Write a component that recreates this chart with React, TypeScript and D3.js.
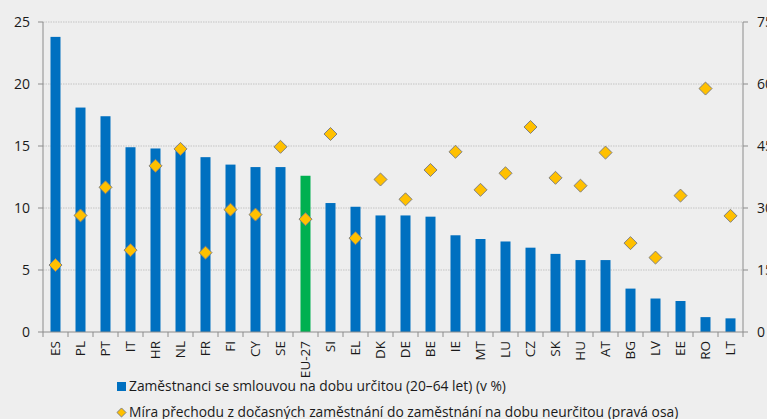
import * as d3 from "d3";

const countries = ["ES", "PL", "PT", "IT", "HR", "NL", "FR", "FI", "CY", "SE", "EU-27", "SI", "EL", "DK", "DE", "BE", "IE", "MT", "LU", "CZ", "SK", "HU", "AT", "BG", "LV", "EE", "RO", "LT"];
// share of employees on fixed-term contracts (left axis, %)
const fixedTerm = [23.8, 18.1, 17.4, 14.9, 14.8, 14.8, 14.1, 13.5, 13.3, 13.3, 12.6, 10.4, 10.1, 9.4, 9.4, 9.3, 7.8, 7.5, 7.3, 6.8, 6.3, 5.8, 5.8, 3.5, 2.7, 2.5, 1.2, 1.1];
// transition rate to permanent contracts (right axis)
const transition = [16.2, 28.2, 35.0, 19.8, 40.2, 44.3, 19.2, 29.6, 28.4, 44.8, 27.3, 47.9, 22.7, 36.9, 32.1, 39.2, 43.6, 34.4, 38.4, 49.6, 37.3, 35.4, 43.4, 21.5, 18.0, 33.0, 58.9, 28.1];
const leftTicks = [0, 5, 10, 15, 20, 25];
const rightTicks = [0, 15, 30, 45, 60, 75];
const legendLabels = [
  "Zaměstnanci se smlouvou na dobu určitou (20–64 let) (v %)",
  "Míra přechodu z dočasných zaměstnání do zaměstnání na dobu neurčitou (pravá osa)",
];

const W = 767;
const H = 419;
const margin = { left: 43, right: 743, top: 22, bottom: 332 };
const font = "'Open Sans', Lato, sans-serif";

export default function App() {
  const x = d3
    .scaleBand()
    .domain(countries)
    .range([margin.left, margin.right])
    .paddingInner(0.6)
    .paddingOuter(0.3);
  const yLeft = d3.scaleLinear().domain([0, 25]).range([margin.bottom, margin.top]);
  const yRight = d3.scaleLinear().domain([0, 75]).range([margin.bottom, margin.top]);
  const diamond = d3.symbol(d3.symbolDiamond2, 108)();
  const smallDiamond = d3.symbol(d3.symbolDiamond2, 52)();
  const step = x.step();
  const boundaries = d3.range(countries.length + 1).map((i) => margin.left + i * step);

  return (
    <svg
      width={W}
      height={H}
      style={{ position: "absolute", left: 0, top: 0, background: "#eeeeee" }}
      fontFamily={font}
    >
      <rect width={W} height={H} fill="#eeeeee" />

      {/* gridlines */}
      {leftTicks.slice(1).map((t) => (
        <line
          key={t}
          x1={margin.left}
          x2={margin.right}
          y1={yLeft(t)}
          y2={yLeft(t)}
          stroke="#c4c4c4"
          strokeDasharray="1.5 1"
        />
      ))}

      {/* bars */}
      {countries.map((c, i) => (
        <rect
          key={c}
          x={x(c)}
          y={yLeft(fixedTerm[i])}
          width={x.bandwidth()}
          height={yLeft(0) - yLeft(fixedTerm[i])}
          fill={c === "EU-27" ? "#00b050" : "#0070c0"}
        />
      ))}

      {/* axes */}
      <g stroke="#8c8c8c" strokeWidth={1}>
        <line x1={margin.left} x2={margin.left} y1={margin.top} y2={margin.bottom} />
        <line x1={margin.right} x2={margin.right} y1={margin.top} y2={margin.bottom} />
        <line x1={margin.left} x2={margin.right} y1={margin.bottom} y2={margin.bottom} />
        {leftTicks.map((t) => (
          <line key={"l" + t} x1={margin.left - 5} x2={margin.left} y1={yLeft(t)} y2={yLeft(t)} />
        ))}
        {rightTicks.map((t) => (
          <line key={"r" + t} x1={margin.right} x2={margin.right + 5} y1={yRight(t)} y2={yRight(t)} />
        ))}
        {boundaries.map((b) => (
          <line key={"b" + b} x1={b} x2={b} y1={margin.bottom} y2={margin.bottom + 5} />
        ))}
      </g>

      {/* diamonds */}
      {countries.map((c, i) => (
        <path
          key={"d" + c}
          d={diamond}
          transform={`translate(${x(c)! + x.bandwidth() / 2},${yRight(transition[i])})`}
          fill="#ffc000"
          stroke="#808080"
          strokeWidth={1}
        />
      ))}

      {/* left tick labels */}
      {leftTicks.map((t) => (
        <text
          key={"lt" + t}
          x={margin.left - 13}
          y={yLeft(t)}
          dy="0.35em"
          textAnchor="end"
          fontSize={14}
          fill="#1a1a1a"
        >
          {t}
        </text>
      ))}
      {/* right tick labels (clipped by the picture edge, as in the source) */}
      {rightTicks.map((t) => (
        <text
          key={"rt" + t}
          x={margin.right + 14}
          y={yRight(t)}
          dy="0.35em"
          fontSize={14}
          fill="#1a1a1a"
        >
          {t}
        </text>
      ))}

      {/* category labels */}
      {countries.map((c) => {
        const cx = x(c)! + x.bandwidth() / 2;
        const cy = margin.bottom + 9;
        return (
          <text
            key={"c" + c}
            transform={`translate(${cx},${cy}) rotate(-90)`}
            dy="0.35em"
            textAnchor="end"
            fontSize={13.5}
            fill="#1a1a1a"
          >
            {c}
          </text>
        );
      })}

      {/* legend */}
      <rect x={117} y={382} width={9} height={9} fill="#0070c0" />
      <text x={129} y={391} fontSize={13.8} fill="#1a1a1a">
        {legendLabels[0]}
      </text>
      <path d={smallDiamond} transform="translate(121.5,412.5)" fill="#ffc000" stroke="#808080" strokeWidth={1} />
      <text x={129} y={417} fontSize={13.8} fill="#1a1a1a">
        {legendLabels[1]}
      </text>
    </svg>
  );
}
